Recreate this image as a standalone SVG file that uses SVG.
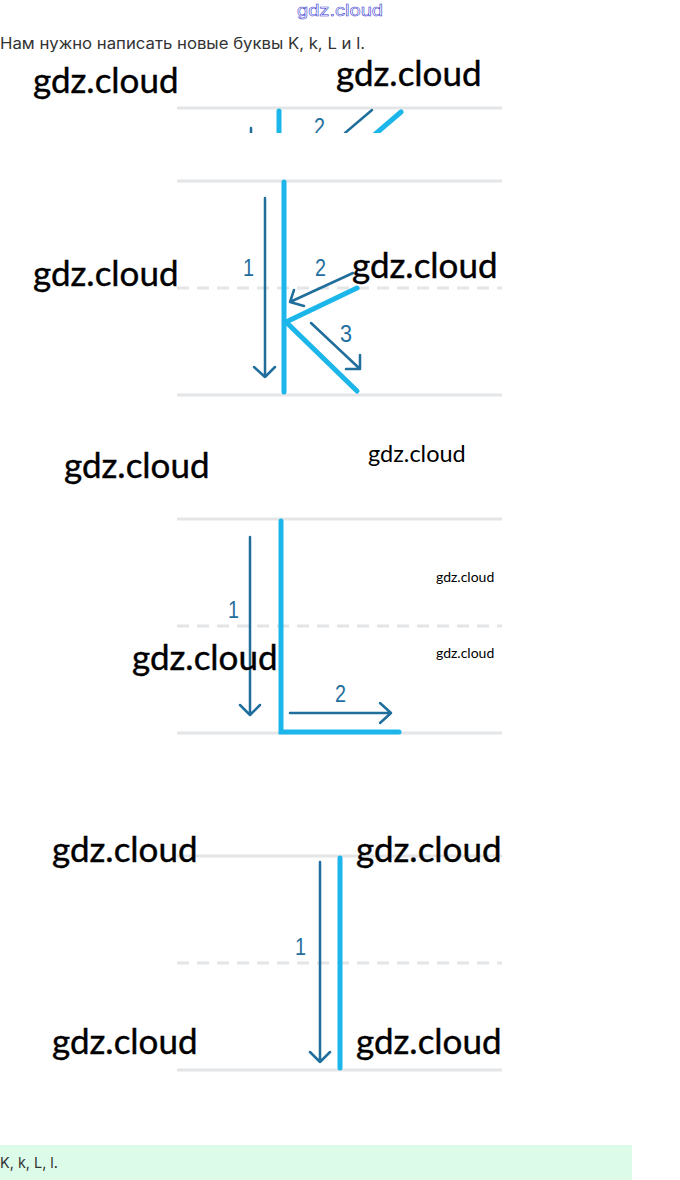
<svg xmlns="http://www.w3.org/2000/svg" width="680" height="1180" viewBox="0 0 680 1180">
<style>
.guide{stroke:#e3e5e7;stroke-width:3;fill:none}
.dash{stroke:#e3e5e7;stroke-width:3;fill:none;stroke-dasharray:12 8}
.stroke{stroke:#1cb6ea;stroke-width:5;stroke-linecap:round;fill:none}
.arrow{stroke:#1f6e9c;stroke-width:2.5;fill:none;stroke-linecap:round;stroke-linejoin:round}
.num{font-family:"Liberation Sans",Arial,sans-serif;font-size:24px;fill:#1f6e9c}
.wm{font-family:Lato,"Liberation Sans",sans-serif;fill:#000}
.big{font-size:35px;stroke:#000;stroke-width:0.4}
.body{font-family:Inter,"Noto Sans",sans-serif;fill:#333}
</style>
<defs>
<clipPath id="topclip"><rect x="170" y="100" width="340" height="33"/></clipPath>
</defs>
<rect width="680" height="1180" fill="#fff"/>

<text x="340" y="16" text-anchor="middle" font-family="Liberation Sans,Arial,sans-serif" font-size="16" fill="#fff" stroke="#3a3ad0" stroke-width="0.5" textLength="86" lengthAdjust="spacingAndGlyphs">gdz.cloud</text>
<text class="body" x="0" y="49" font-size="15.5" textLength="365" lengthAdjust="spacingAndGlyphs">Нам нужно написать новые буквы K, k, L и l.</text>

<g id="top-fragment" clip-path="url(#topclip)">
<line class="guide" x1="177" y1="108" x2="502" y2="108"/>
<line class="arrow" x1="251" y1="128" x2="251" y2="140"/>
<line class="stroke" x1="279" y1="111" x2="279" y2="140"/>
<text class="num" x="314" y="135" textLength="11" lengthAdjust="spacingAndGlyphs">2</text>
<line class="arrow" x1="345" y1="133" x2="372" y2="110"/>
<line class="stroke" x1="373" y1="136" x2="401" y2="112"/>
</g>

<g id="letter-K">
<line class="guide" x1="177" y1="181" x2="502" y2="181"/>
<line class="dash" x1="177" y1="288" x2="502" y2="288"/>
<line class="guide" x1="177" y1="395" x2="502" y2="395"/>
<line class="stroke" x1="284" y1="182" x2="284" y2="392"/>
<line class="stroke" x1="286" y1="322" x2="357" y2="288"/>
<line class="stroke" x1="286" y1="322" x2="357" y2="391"/>
</g>
<g id="connectors-K">
<path class="arrow" d="M265 198 V377 M254 367 L265 377 L275 367"/>
<path class="arrow" d="M353 273 L290 302 M294 290 L290 302 L304 306"/>
<path class="arrow" d="M311 323 L360 369 M360 355 L360 369 L346 369"/>
<text class="num" x="243" y="276" textLength="11" lengthAdjust="spacingAndGlyphs">1</text>
<text class="num" x="315" y="276" textLength="11" lengthAdjust="spacingAndGlyphs">2</text>
<text class="num" x="340" y="342" textLength="12" lengthAdjust="spacingAndGlyphs">3</text>
</g>

<g id="letter-L">
<line class="guide" x1="177" y1="519" x2="502" y2="519"/>
<line class="dash" x1="177" y1="626" x2="502" y2="626"/>
<line class="guide" x1="177" y1="733" x2="502" y2="733"/>
<path class="stroke" d="M281 521 V732 H399" stroke-linecap="round" stroke-linejoin="miter"/>
</g>
<g id="connectors-L">
<path class="arrow" d="M250 537 V715 M240 705 L250 715 L260 705"/>
<path class="arrow" d="M290 713 H391 M380 703 L391 713 L380 723"/>
<text class="num" x="228" y="618" textLength="11" lengthAdjust="spacingAndGlyphs">1</text>
<text class="num" x="335" y="702" textLength="11" lengthAdjust="spacingAndGlyphs">2</text>
</g>

<g id="letter-l">
<line class="guide" x1="177" y1="856" x2="502" y2="856"/>
<line class="dash" x1="177" y1="963" x2="502" y2="963"/>
<line class="guide" x1="177" y1="1070" x2="502" y2="1070"/>
<line class="stroke" x1="340" y1="858" x2="340" y2="1068"/>
</g>
<g id="connectors-l">
<path class="arrow" d="M320 862 V1062 M310 1052 L320 1062 L330 1052"/>
<text class="num" x="295" y="955" textLength="11" lengthAdjust="spacingAndGlyphs">1</text>
</g>

<g id="watermarks">
<text class="wm big" x="33" y="93">gdz.cloud</text>
<text class="wm big" x="336" y="86">gdz.cloud</text>
<text class="wm big" x="33" y="286">gdz.cloud</text>
<text class="wm big" x="352" y="278">gdz.cloud</text>
<text class="wm big" x="64" y="478">gdz.cloud</text>
<text class="wm" x="368" y="462" font-size="23.5">gdz.cloud</text>
<text class="wm" x="436" y="582" font-size="14">gdz.cloud</text>
<text class="wm" x="436" y="658" font-size="14">gdz.cloud</text>
<text class="wm big" x="132" y="670">gdz.cloud</text>
<text class="wm big" x="52" y="862">gdz.cloud</text>
<text class="wm big" x="356" y="862">gdz.cloud</text>
<text class="wm big" x="52" y="1054">gdz.cloud</text>
<text class="wm big" x="356" y="1054">gdz.cloud</text>
</g>

<g id="answer">
<rect x="0" y="1145" width="632" height="35" fill="#dcfce9"/>
<text class="body" x="0" y="1168" font-size="15" textLength="58" lengthAdjust="spacingAndGlyphs">K, k, L, l.</text>
</g>
</svg>
